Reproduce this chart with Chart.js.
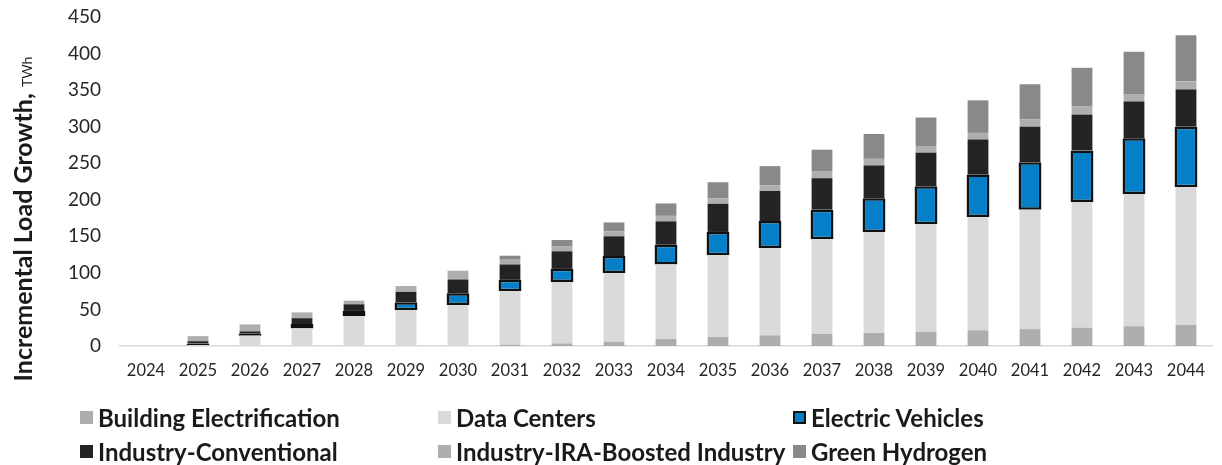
<!DOCTYPE html>
<html>
<head>
<meta charset="utf-8">
<script src="https://cdn.jsdelivr.net/npm/chart.js@4.4.1/dist/chart.umd.min.js"></script>
<style>
    body { margin: 0; background: #fff; }
    #wrap { position: relative; width: 1222px; height: 465px; }
    #legend {
        position: absolute; left: 80px; top: 403px;
        display: grid; grid-template-columns: 358px 355px auto; row-gap: 6px;
        font-family: Lato, sans-serif; font-weight: bold; font-size: 24px; color: #1a1a1a;
    }
    #legend .item { display: flex; align-items: center; height: 28px; white-space: nowrap; }
    #legend .box { width: 13px; height: 13px; margin-right: 5px; box-sizing: border-box; }
</style>
</head>
<body>
<div id="wrap">
    <canvas id="chart" width="1222" height="465"></canvas>
    <div id="legend"></div>
</div>
<script>
var years = ['2024', '2025', '2026', '2027', '2028', '2029', '2030', '2031', '2032', '2033', '2034',
    '2035', '2036', '2037', '2038', '2039', '2040', '2041', '2042', '2043', '2044'];
var buildingElectrification = [0, 0, 0, 0, 0, 0, 0, 1.5, 3.5, 6, 9.5, 12.5, 14.5, 16.5, 18, 19.5, 21.5, 23, 25, 27, 29];
var dataCenters = [0, 1, 14, 24, 41, 49, 56, 73.5, 84, 94, 102, 111.5, 119.5, 129.5, 138, 147, 155, 163.5, 172, 181, 188];
var electricVehicles = [0, 2.5, 3, 6, 7, 11, 16, 15.5, 18, 23, 27, 32, 37, 40.5, 46, 52, 58, 65, 70.5, 76, 83];
var industryConventional = [0, 3, 3, 8, 9, 14, 19, 21, 24, 27, 32, 38.5, 41, 43, 45, 46, 48, 48.5, 49, 50.5, 51];
var industryIRA = [0, 7, 9.5, 8, 5, 8, 12, 6.5, 6.5, 7, 7.5, 7.5, 8, 9, 9, 9, 9, 10, 11, 10, 11];
var greenHydrogen = [0, 0, 0, 0, 0, 0, 0, 5.5, 9, 12, 17, 22, 26, 30, 34, 39, 44.5, 48, 53, 58, 63];
var yTicks = [0, 50, 100, 150, 200, 250, 300, 350, 400, 450];

function plainBar(label, data, color) {
    return {
        label: label,
        data: data,
        backgroundColor: color,
        borderWidth: 0,
        barPercentage: 0.4,
        categoryPercentage: 1
    };
}

var evSet = plainBar('Electric Vehicles', electricVehicles, '#0580c8');
evSet.borderColor = '#111111';
evSet.borderWidth = 2.5;
evSet.borderSkipped = false;
evSet.barPercentage = 0.44;

var datasets = [
    plainBar('Building Electrification', buildingElectrification, '#adadad'),
    plainBar('Data Centers', dataCenters, '#d9d9d9'),
    evSet,
    plainBar('Industry-Conventional', industryConventional, '#232323'),
    plainBar('Industry-IRA-Boosted Industry', industryIRA, '#aeaeae'),
    plainBar('Green Hydrogen', greenHydrogen, '#898989')
];

// y title with the small "TWh" unit
var yTitle = {
    id: 'yTitle',
    afterDraw: function (chart) {
        var ctx = chart.ctx;
        var main = 'Incremental Load Growth, ';
        var unit = 'TWh';
        ctx.save();
        ctx.font = 'bold 25px Lato';
        var w1 = ctx.measureText(main).width;
        ctx.font = '14px Lato';
        var w2 = ctx.measureText(unit).width;
        ctx.translate(32, 219);
        ctx.rotate(-Math.PI / 2);
        ctx.fillStyle = '#1a1a1a';
        ctx.textBaseline = 'alphabetic';
        var start = -(w1 + w2) / 2;
        ctx.font = 'bold 25px Lato';
        ctx.fillText(main, start, 0);
        ctx.font = '14px Lato';
        ctx.fillText(unit, start + w1, 0);
        ctx.restore();
    }
};

var chart = new Chart(document.getElementById('chart').getContext('2d'), {
    type: 'bar',
    data: { labels: years, datasets: datasets },
    plugins: [yTitle],
    options: {
        responsive: false,
        animation: false,
        layout: { padding: { top: 17, right: 10, bottom: 79, left: 0 } },
        plugins: {
            legend: { display: false },
            tooltip: { enabled: false }
        },
        scales: {
            x: {
                stacked: true,
                grid: { display: false, drawTicks: false },
                border: { display: true, color: '#d9d9d9', width: 1.5 },
                ticks: { font: { family: 'Lato', size: 16.5 }, color: '#262626', padding: 15, maxRotation: 0 },
                afterFit: function (scale) { scale.height = 40; }
            },
            y: {
                stacked: true,
                min: 0,
                max: 450,
                grid: { display: false, drawTicks: false },
                border: { display: false },
                afterBuildTicks: function (scale) {
                    scale.ticks = yTicks.map(function (v) { return { value: v }; });
                },
                ticks: { font: { family: 'Lato', size: 19 }, color: '#262626', padding: 19 },
                afterFit: function (scale) {
                    scale.width = 120;
                    // tick padding would otherwise push the plot top down
                    scale.paddingTop = 0;
                    scale.paddingBottom = 0;
                }
            }
        }
    }
});

// HTML legend in three columns
var legend = document.getElementById('legend');
chart.data.datasets.forEach(function (ds) {
    var item = document.createElement('div');
    item.className = 'item';
    var box = document.createElement('span');
    box.className = 'box';
    box.style.background = ds.backgroundColor;
    if (ds.borderWidth) box.style.border = '2px solid ' + ds.borderColor;
    item.appendChild(box);
    item.appendChild(document.createTextNode(ds.label));
    legend.appendChild(item);
});
</script>
</body>
</html>
